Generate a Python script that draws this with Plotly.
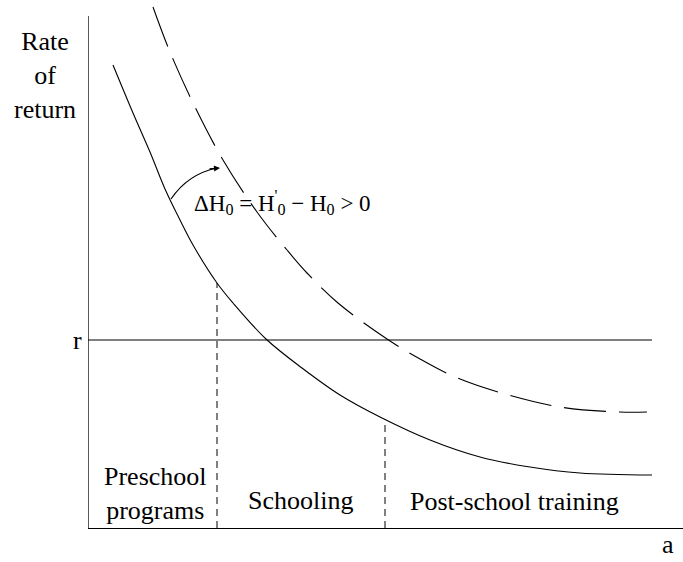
import numpy as np
import plotly.graph_objects as go

# --- data (age a on x, rate of return on y; arbitrary units) ---
solid_x = [25, 45, 62, 77, 92, 105, 129, 145, 178, 214, 252, 292, 342, 392, 442, 492, 564]
solid_y = [463, 415, 376, 339, 308, 283, 245, 225, 189, 160, 133, 111, 88, 71, 61, 55, 53]

dashed_x = [65, 82, 107, 135, 169, 199, 219, 250, 299, 332, 367, 410, 472, 532, 559]
dashed_y = [521, 476, 421, 368, 316, 278, 255, 225, 189, 169, 151, 136, 121, 116, 116]

r_level = 188
r_x_end = 564
stage_bounds = [129, 297]
stage_labels = ["Preschool<br>programs", "Schooling", "Post-school training"]
stage_label_x = [67, 212, 426]
stage_label_y = [35, 28, 27]
y_axis_top = 512

X_MAX, Y_MAX = 595, 528
FONT = "Liberation Serif, Times New Roman, serif"

fig = go.Figure()

fig.add_trace(go.Scatter(x=solid_x, y=solid_y, mode="lines",
                         line=dict(color="black", width=1.1, shape="spline"),
                         hoverinfo="skip"))
fig.add_trace(go.Scatter(x=dashed_x, y=dashed_y, mode="lines",
                         line=dict(color="black", width=1.1, shape="spline", dash="42px,13px"),
                         hoverinfo="skip"))
# r line
fig.add_trace(go.Scatter(x=[0, r_x_end], y=[r_level, r_level], mode="lines",
                         line=dict(color="black", width=1.2), hoverinfo="skip"))
# stage boundaries
for b in stage_bounds:
    top = float(np.interp(b, solid_x, solid_y))
    fig.add_trace(go.Scatter(x=[b, b], y=[0, top], mode="lines",
                             line=dict(color="black", width=1, dash="7px,5px"),
                             hoverinfo="skip"))

# y axis line
fig.add_shape(type="line", xref="x", yref="y", x0=0, x1=0, y0=0, y1=y_axis_top,
              line=dict(color="black", width=1.3))
# curved arrow
fig.add_shape(type="path", xref="x", yref="y", path="M 83,329 Q 100,354 129,360",
              line=dict(color="black", width=1.2))
fig.add_annotation(x=132, y=360, ax=-12, ay=1, xref="x", yref="y", text="",
                   showarrow=True, arrowhead=2, arrowsize=1, arrowwidth=1.2,
                   arrowcolor="black")

ann_font = dict(family=FONT, size=26, color="black")
fig.add_annotation(x=-43 / X_MAX, y=453 / Y_MAX, xref="paper", yref="paper",
                   xanchor="center", yanchor="middle",
                   text="Rate<br>of<br>return", showarrow=False, font=ann_font,
                   align="center")
fig.add_annotation(x=-11 / X_MAX, y=r_level / Y_MAX, xref="paper", yref="paper",
                   xanchor="center", yanchor="middle",
                   text="r", showarrow=False, font=ann_font)
fig.add_annotation(x=580 / X_MAX, y=-33 / Y_MAX, xref="paper", yref="paper",
                   xanchor="center", yanchor="bottom",
                   text="a", showarrow=False, font=ann_font)
for lab, lx, ly in zip(stage_labels, stage_label_x, stage_label_y):
    fig.add_annotation(x=lx, y=ly, xref="x", yref="y", text=lab,
                       xanchor="center", yanchor="middle",
                       showarrow=False, font=ann_font, align="center")
fig.add_annotation(x=194, y=326, xref="x", yref="y",
                   xanchor="center", yanchor="middle",
                   text="ΔH<sub>0</sub> = H<sup>'</sup><sub>0</sub> − H<sub>0</sub> > 0",
                   showarrow=False, font=dict(family=FONT, size=23, color="black"))

fig.update_layout(
    width=683, height=562,
    margin=dict(l=88, r=0, t=0, b=34),
    paper_bgcolor="white", plot_bgcolor="white",
    showlegend=False,
    xaxis=dict(range=[0, X_MAX], showgrid=False, zeroline=False, showticklabels=False,
               ticks="", showline=True, linecolor="black", linewidth=1.3, fixedrange=True),
    yaxis=dict(range=[0, Y_MAX], showgrid=False, zeroline=False, showticklabels=False,
               ticks="", showline=False, fixedrange=True),
)

fig.write_html(
    "out.html",
    config={"displayModeBar": False},
    post_script="document.body.style.margin='0px';document.body.style.overflow='hidden';",
)
